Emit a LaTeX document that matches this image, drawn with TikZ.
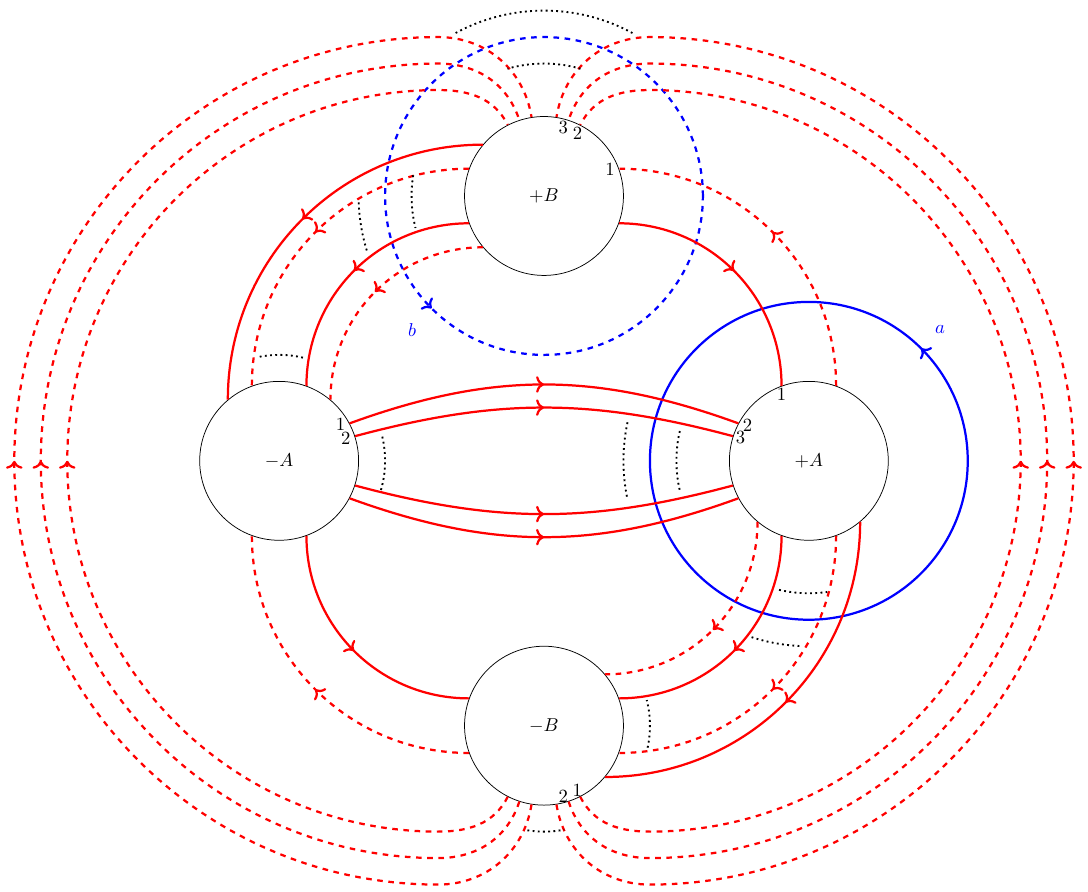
\documentclass[tikz,border=0pt]{standalone}
\usetikzlibrary{arrows.meta,decorations.markings,calc}
\tikzset{
  pole/.style={circle, draw, minimum size=3cm, inner sep=0pt},
  flow/.style={red, very thick},
  midarr/.style={postaction={decorate}, decoration={markings, mark=at position #1 with {\arrow{To}}}},
  midarr/.default=0.5,
  dotarc/.style={line width=1pt, dash pattern=on 1pt off 1.8pt},
}
\begin{document}
\begin{tikzpicture}
  \useasboundingbox (-10.27,-8.13) rectangle (10.27,8.70);

  \node[pole] (mA) at (-5,0) {$-A$};
  \node[pole] (pA) at (5,0) {$+A$};
  \node[pole] (pB) at (0,5) {$+B$};
  \node[pole] (mB) at (0,-5) {$-B$};

  \draw[blue, very thick, dashed, midarr=0.625] (pB) circle[radius=3];
  \draw[blue, very thick, midarr=0.125] (pA) circle[radius=3];
  \node[blue] (lb) at ($(pB)+(225.5:3.55)$) {$b$};
  \node[blue] (la) at ($(pA)+(45:3.5)$) {$a$};

  \draw[flow, midarr] (mA.28) to[out=20, in=160] (pA.152);
  \draw[flow, midarr] (mA.18) to[out=15, in=165] (pA.162);
  \draw[flow, midarr] (mA.-18) to[out=-15, in=-165] (pA.198);
  \draw[flow, midarr] (mA.-28) to[out=-20, in=-160] (pA.208);

  \draw[flow, midarr] (pB.140) to[out=180, in=90] (mA.130);
  \draw[flow, dashed, midarr] (pB.160) to[out=180, in=90] (mA.110);
  \draw[flow, midarr] (pB.200) to[out=180, in=90] (mA.70);
  \draw[flow, dashed, midarr] (pB.220) to[out=180, in=90] (mA.50);

  \draw[flow, midarr] (mA.290) to[out=-90, in=180] (mB.160);
  \draw[flow, dashed, midarr] (mB.200) to[out=180, in=-90] (mA.250);

  \draw[flow, midarr] (pB.-20) to[out=0, in=90] (pA.110);
  \draw[flow, dashed, midarr] (pA.70) to[out=90, in=0] (pB.20);

  \draw[flow, dashed, midarr] (pA.230) to[out=-90, in=0] (mB.40);
  \draw[flow, midarr] (pA.250) to[out=-90, in=0] (mB.20);
  \draw[flow, dashed, midarr] (pA.290) to[out=-90, in=0] (mB.-20);
  \draw[flow, midarr] (pA.310) to[out=-90, in=0] (mB.-40);

  \foreach \l/\u/\r in {243/117/7, 252/108/7.5, 261/99/8}
    \draw[flow, dashed, midarr] (mB.\l) to[out=\l, in=0] (-2,-\r)
      arc[start angle=270, end angle=90, radius=\r] to[out=0, in=\u] (pB.\u);
  \foreach \l/\u/\r in {297/63/7, 288/72/7.5, 279/81/8}
    \draw[flow, dashed, midarr] (mB.\l) to[out=\l, in=180] (2,-\r)
      arc[start angle=-90, end angle=90, radius=\r] to[out=180, in=\u] (pB.\u);

  \foreach \c/\r/\a/\b in {pB/3.5/61.5/118.5, pB/2.5/74/106, pB/3.5/182/198, pB/2.5/171/194,
      mA/2/77/101, mA/2/-16/14, pA/3.5/168/192, pA/2.5/167/193,
      pA/2.5/257/278, pA/3.5/252/268, mB/2/-12/14, mB/2/261/281}
    \draw[dotarc] (\c) ++(\a:\r) arc[start angle=\a, end angle=\b, radius=\r];

  \node (mA1) at ($(mA)+(31:1.35)$) {1};
  \node (mA2) at ($(mA)+(19:1.33)$) {2};
  \node (pA1) at ($(pA)+(112.5:1.35)$) {1};
  \node (pA2) at ($(pA)+(149.6:1.34)$) {2};
  \node (pA3) at ($(pA)+(161.4:1.36)$) {3};
  \node (pB1) at ($(pB)+(21.7:1.34)$) {1};
  \node (pB2) at ($(pB)+(61.7:1.34)$) {2};
  \node (pB3) at ($(pB)+(74.3:1.35)$) {3};
  \node (mB1) at ($(mB)+(-62.6:1.37)$) {1};
  \node (mB2) at ($(mB)+(-74.8:1.39)$) {2};
\end{tikzpicture}
\end{document}
